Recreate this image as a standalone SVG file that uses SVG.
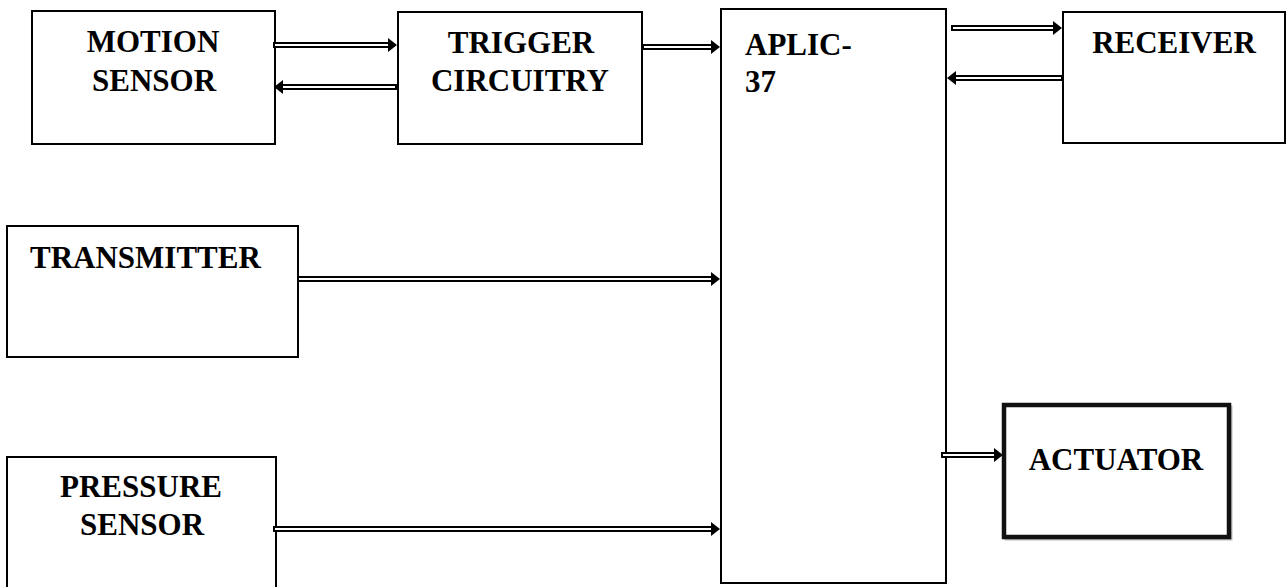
<svg xmlns="http://www.w3.org/2000/svg" width="1286" height="587" viewBox="0 0 1286 587">
<style>
.box{fill:#fff;stroke:#000;stroke-width:2}
.thick{fill:#fff;stroke:#111;stroke-width:4.5}
.lbl{font-family:"Liberation Serif","Times New Roman",serif;font-weight:bold;font-size:31px;fill:#000}
.c{text-anchor:middle}
.outer{stroke:#000;stroke-width:6;fill:none}
.inner{stroke:#fff;stroke-width:2;fill:none}
.head{fill:#000}
</style>
<rect width="1286" height="587" fill="#fff"/>
<g id="motion-sensor">
<rect class="box" x="32" y="11" width="243" height="133"/>
<text class="lbl c" x="153" y="52">MOTION</text>
<text class="lbl c" x="154" y="91">SENSOR</text>
</g>
<g id="trigger-circuitry">
<rect class="box" x="398" y="12" width="244" height="132"/>
<text class="lbl c" x="521" y="53">TRIGGER</text>
<text class="lbl c" x="520" y="91">CIRCUITRY</text>
</g>
<g id="aplic">
<rect class="box" x="721" y="9" width="225" height="574"/>
<text class="lbl" x="745" y="55">APLIC-</text>
<text class="lbl" x="745" y="92">37</text>
</g>
<g id="receiver">
<rect class="box" x="1063" y="12" width="222" height="131"/>
<text class="lbl c" x="1174" y="53">RECEIVER</text>
</g>
<g id="transmitter">
<rect class="box" x="7" y="226" width="291" height="131"/>
<text class="lbl" x="30" y="268">TRANSMITTER</text>
</g>
<g id="pressure-sensor">
<rect class="box" x="7" y="457" width="269" height="140"/>
<text class="lbl c" x="141" y="497">PRESSURE</text>
<text class="lbl c" x="142" y="535">SENSOR</text>
</g>
<g id="actuator">
<rect x="1006" y="407" width="225" height="132" fill="none" stroke="#bbb" stroke-width="3"/>
<rect class="thick" x="1004" y="405" width="225" height="132"/>
<text class="lbl c" x="1116" y="470">ACTUATOR</text>
</g>
<g id="connectors">
<!-- motion -> trigger -->
<path class="outer" d="M273 45H389"/><path class="inner" d="M275 45H390"/><path class="head" d="M388 38L397 45L388 52Z"/>
<!-- trigger -> motion -->
<path class="outer" d="M397 87H283"/><path class="inner" d="M395 87H282"/><path class="head" d="M283 80L274 87L283 94Z"/>
<!-- trigger -> aplic -->
<path class="outer" d="M642 47H712"/><path class="inner" d="M644 47H713"/><path class="head" d="M711 40L720 47L711 54Z"/>
<!-- aplic -> receiver -->
<path class="outer" d="M951 28H1054"/><path class="inner" d="M953 28H1055"/><path class="head" d="M1053 21L1062 28L1053 35Z"/>
<!-- receiver -> aplic -->
<path class="outer" d="M1063 78H956"/><path class="inner" d="M1061 78H955"/><path class="head" d="M956 71L947 78L956 85Z"/>
<!-- transmitter -> aplic -->
<path class="outer" d="M297 279H712"/><path class="inner" d="M299 279H713"/><path class="head" d="M711 272L720 279L711 286Z"/>
<!-- pressure -> aplic -->
<path class="outer" d="M273 529H712"/><path class="inner" d="M275 529H713"/><path class="head" d="M711 522L720 529L711 536Z"/>
<!-- aplic -> actuator -->
<path class="outer" d="M941 455H995"/><path class="inner" d="M943 455H996"/><path class="head" d="M994 448L1003 455L994 462Z"/>
</g>
</svg>
